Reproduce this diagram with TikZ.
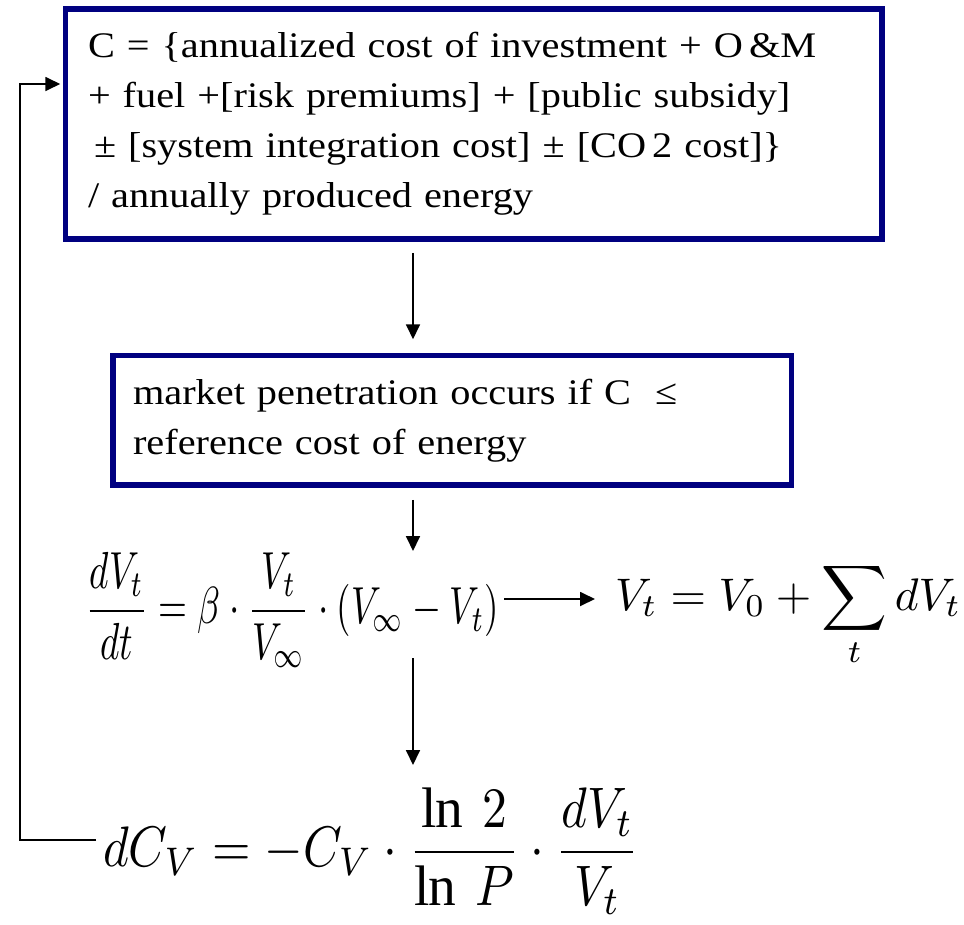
\documentclass[tikz,border=0pt]{standalone}
\usepackage{fontspec}
\setmainfont{Liberation Serif}[FakeStretch=1.12]
\usepackage{graphicx}
\usetikzlibrary{arrows.meta,calc}
\definecolor{boxnavy}{RGB}{0,0,128}
\begin{document}
\begin{tikzpicture}[x=1pt,y=-1pt,
  textbox/.style={draw=boxnavy, line width=5.5pt, align=left, font=\fontsize{36}{50}\selectfont, inner ysep=0pt},
  arr/.style={line width=1.8pt, -{Triangle[length=15pt,width=14pt]}},
  eqn/.style={inner sep=0pt, anchor=north west}]
\useasboundingbox (0,0) rectangle (964,924);
\node[textbox, minimum width=816.5pt, minimum height=230pt, text width=771.5pt, inner xsep=22.5pt] (box1) at (473.75,124)
  {C = \{annualized cost of investment + O\,\&M\\+ fuel +[risk premiums] + [public subsidy]\\\hspace*{6pt}± [system integration cost] ± [CO\,2 cost]\}\\/ annually produced energy};
\node[textbox, minimum width=678.5pt, minimum height=129.5pt, text width=638.5pt, inner xsep=20pt] (box2) at (452.25,420.25)
  {market penetration occurs if C\ \ ≤\\reference cost of energy};
\node[eqn] (eq1) at (85,552) {\resizebox*{414pt}{115pt}{$\displaystyle \frac{dV_t}{dt}=\beta\cdot\frac{V_t}{V_\infty}\cdot\left(V_\infty-V_t\right)$}};
\node[eqn] (eq2) at (615,562) {\resizebox*{346pt}{105pt}{$\displaystyle V_t=V_0+\sum_t dV_t$}};
\node[eqn] (eq3) at (103,788) {\resizebox*{536pt}{126pt}{$\displaystyle dC_V=-C_V\cdot\frac{\ln\ 2}{\ln\ P}\cdot\frac{dV_t}{V_t}$}};
\coordinate (ax) at (413,0);
\coordinate (ay) at (0,599);
\coordinate (fb) at (20,840);
\coordinate (ft) at (20,84);
\draw[arr, shorten <=11pt, shorten >=13.5pt] (box1.south -| ax) -- (box2.north -| ax);
\draw[arr, shorten <=12pt, shorten >=1pt] (box2.south -| ax) -- (eq1.north -| ax);
\draw[arr, shorten <=-9pt, shorten >=23pt] (eq1.south -| ax) -- (eq3.north -| ax);
\draw[arr, shorten <=5pt, shorten >=20pt] (eq1.east |- ay) -- (eq2.west |- ay);
\draw[arr, shorten <=7pt, shorten >=2.5pt] (eq3.west |- fb) -- (fb) -- (ft) -- (box1.west |- ft);
\end{tikzpicture}
\end{document}
